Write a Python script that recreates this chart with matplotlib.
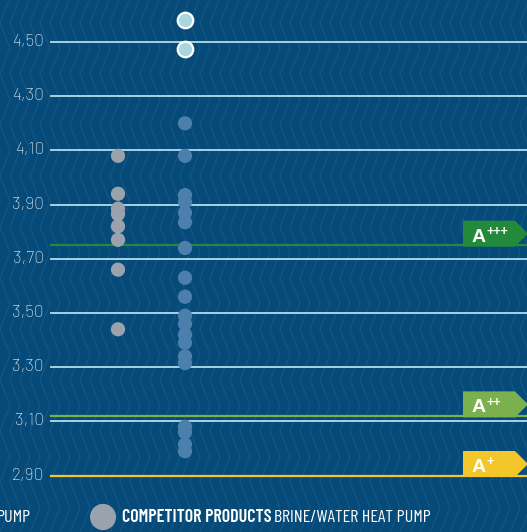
import matplotlib
matplotlib.use("Agg")
import matplotlib.pyplot as plt
import matplotlib.patches as patches
from matplotlib.lines import Line2D
import numpy as np

# --- data ---
tick_values = [4.50, 4.30, 4.10, 3.90, 3.70, 3.50, 3.30, 3.10, 2.90]
tick_labels = ["4,50", "4,30", "4,10", "3,90", "3,70", "3,50", "3,30", "3,10", "2,90"]

competitor_cop = [4.08, 3.94, 3.885, 3.865, 3.82, 3.77, 3.66, 3.44]
own_cop = [4.20, 4.08, 3.935, 3.91, 3.87, 3.835, 3.74, 3.63, 3.56, 3.49,
           3.46, 3.42, 3.39, 3.34, 3.315, 3.08, 3.06, 3.015, 2.99]
highlight_cop = [4.58, 4.475]

class_names = ["A", "A", "A"]
class_sups = ["+++", "++", "+"]
class_limits = [3.75, 3.12, 2.90]
class_colors = ["#238a3b", "#7bb04f", "#f3c72a"]

BG = "#054a78"
GRID = "#a6d3e3"
W, H = 527, 532

fig = plt.figure(figsize=(W / 100, H / 100), dpi=100)
fig.patch.set_facecolor(BG)
ax = fig.add_axes([0, 0, 1, 1])
ax.set_facecolor("none")
# 67 px per category step, 271 px per COP unit
ax.set_xlim(-118 / 67, (W - 118) / 67)
ax.set_ylim(4.5 - (H - 42) / 271, 4.5 + 42 / 271)
ax.axis("off")

# chevron background texture
for x0 in np.arange(-20, W + 20, 10):
    ys = np.arange(-28, H + 60, 25.5)
    xs = np.where(np.arange(len(ys)) % 2 == 0, x0, x0 + 10)
    fig.add_artist(Line2D(xs / W, 1 - ys / H, transform=fig.transFigure,
                          color="#2a6896", lw=0.9, alpha=0.4, zorder=0))

narrow = ["Barlow Condensed", "DejaVu Sans"]
tickfont = ["Barlow", "Barlow Semi Condensed", "DejaVu Sans"]
sans = ["Liberation Sans", "DejaVu Sans"]

# grid lines + tick labels
for v, lab in zip(tick_values, tick_labels):
    ax.plot([-1.0, 7], [v, v], color=GRID, lw=1.4, zorder=1)
    ax.text(-1.105, v, lab, ha="right", va="center", fontsize=12.5,
            fontweight="light", color="white", family=tickfont)

# energy class lines and arrow labels
px = 1 / 271
for name, sup, lim, col in zip(class_names, class_sups, class_limits, class_colors):
    ax.plot([-1.0, 7], [lim, lim], color=col, lw=1.6, zorder=2)
    x0, x1, x2 = 5.149, 5.925, 6.12
    yb, yt = lim - 1.4 * px, lim + 24.6 * px
    poly = patches.Polygon([(x0, yb), (x1, yb), (x2, (yb + yt) / 2), (x1, yt), (x0, yt)],
                           closed=True, facecolor=col, edgecolor="none", zorder=3)
    ax.add_patch(poly)
    ax.text(x0 + 0.12, lim + 3.6 * px, name, ha="left", va="baseline", fontsize=14,
            fontweight="bold", color="white", family=sans, zorder=4)
    ax.text(x0 + 0.355, lim + 10.3 * px, sup, ha="left", va="baseline", fontsize=9,
            fontweight="bold", color="white", family=sans, zorder=4)

# points
ax.scatter([0] * len(competitor_cop), competitor_cop, s=105, color="#9aa2ad",
           edgecolors="none", zorder=5)
ax.scatter([1] * len(own_cop), own_cop, s=105, color="#4b80ad",
           edgecolors="none", zorder=5)
ax.scatter([1] * len(highlight_cop), highlight_cop, s=125, color="#a9d7df",
           edgecolors="white", linewidths=1.6, zorder=6)

# legend row at the bottom
fig.text(31 / W, 1 - 518 / H, "PUMP", ha="right", va="center", fontsize=13,
         color="white", family=narrow)
fig.add_artist(patches.Circle((103 / W, 1 - 517 / H), 13 / W, transform=fig.transFigure,
                              facecolor="#9aa2ad", edgecolor="none"))
fig.text(122 / W, 1 - 518 / H, "COMPETITOR PRODUCTS", ha="left", va="center",
         fontsize=13, fontweight="semibold", color="white", family=narrow)
fig.text(274 / W, 1 - 518 / H, "BRINE/WATER HEAT PUMP", ha="left", va="center",
         fontsize=13, color="white", family=narrow)

fig.savefig("out.png", dpi=100, facecolor=BG)
